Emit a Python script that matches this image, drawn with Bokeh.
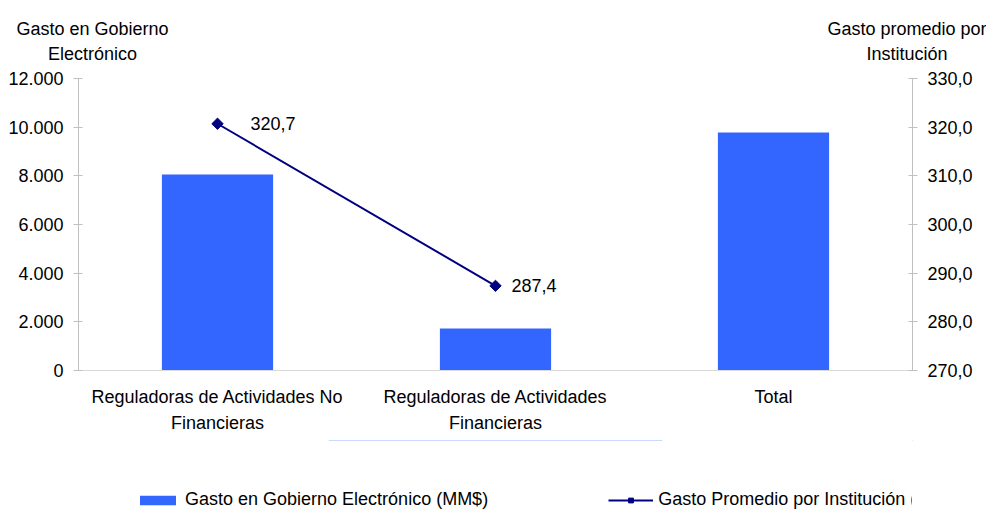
import math
from bokeh.plotting import figure
from bokeh.layouts import column
from bokeh.models import (Range1d, LinearAxis, FixedTicker,
                          CustomJSTickFormatter, Legend, LegendItem, ColumnDataSource)
from bokeh.core.properties import value
from bokeh.embed import file_html
from bokeh.resources import INLINE

# ---- data ----
categories = ["Reguladoras de Actividades No\nFinancieras",
              "Reguladoras de Actividades\nFinancieras",
              "Total"]
gasto_gobierno = [8050, 1730, 9780]
gasto_promedio = [320.7, 287.4]          # first two categories only
avg_labels = ["320,7", "287,4"]
left_ticks = [0, 2000, 4000, 6000, 8000, 10000, 12000]
right_ticks = [270, 280, 290, 300, 310, 320, 330]
left_title = "Gasto en Gobierno\nElectrónico"
right_title = "Gasto promedio por\nInstitución"
legend_labels = ["Gasto en Gobierno Electrónico (MM$)", "Gasto Promedio por Institución (MM$)"]

FONT = "Liberation Sans"
FS = "18px"
BAR_COLOR = "#3366FF"
LINE_COLOR = "#000080"
AXIS_COLOR = "#c0c0c0"

# category slots on a numeric axis (slot centres)
x_pos = [i + 0.5 for i in range(len(categories))]
x_avg = x_pos[:len(gasto_promedio)]

p = figure(frame_width=834, frame_height=292, x_range=Range1d(0, len(categories)),
           y_range=Range1d(0, 12000), output_backend="svg", toolbar_location=None,
           min_border_left=78, min_border_right=74, min_border_top=78, min_border_bottom=70)
p.extra_y_ranges = {"right": Range1d(270, 330)}
p.extra_x_ranges = {"titles": Range1d(0, 834)}
p.outline_line_color = None
p.xgrid.visible = False
p.ygrid.visible = False

bars = p.vbar(x=x_pos, top=gasto_gobierno, width=0.4, color=BAR_COLOR, line_color=None)
line = p.line(x=x_avg, y=gasto_promedio, y_range_name="right",
              line_color=LINE_COLOR, line_width=2)
pts = p.scatter(x=x_avg, y=gasto_promedio, y_range_name="right",
                marker="square", angle=math.pi / 4, size=8, color=LINE_COLOR)

label_offsets = [33, 16]
src = ColumnDataSource(dict(x=x_avg, y=gasto_promedio, t=avg_labels, off=label_offsets))
p.text(x="x", y="y", text="t", x_offset="off", source=src, y_range_name="right",
       text_font=value(FONT), text_font_size=FS, text_color="black",
       text_baseline="middle", text_align="left")

# axes
def style_axis(ax):
    ax.axis_line_color = AXIS_COLOR
    ax.major_tick_line_color = AXIS_COLOR
    ax.minor_tick_line_color = None
    ax.major_label_text_font = FONT
    ax.major_label_text_font_size = FS
    ax.major_label_text_color = "black"

yl = p.yaxis[0]
style_axis(yl)
yl.ticker = FixedTicker(ticks=left_ticks)
yl.major_tick_in = 4
yl.major_tick_out = 5
yl.major_label_standoff = 10
yl.formatter = CustomJSTickFormatter(
    code="return Math.round(tick).toString().replace(/\\B(?=(\\d{3})+(?!\\d))/g, '.');")

yr = LinearAxis(y_range_name="right")
style_axis(yr)
yr.ticker = FixedTicker(ticks=right_ticks)
yr.major_tick_in = 4
yr.major_tick_out = 5
yr.major_label_standoff = 10
yr.formatter = CustomJSTickFormatter(code="return tick.toFixed(1).replace('.', ',');")
p.add_layout(yr, "right")

xa = p.xaxis[0]
style_axis(xa)
xa.axis_line_color = "#d9d9d9"
xa.major_tick_line_color = None
xa.major_tick_in = 0
xa.major_tick_out = 0
xa.major_label_standoff = 16
xa.major_label_text_line_height = 1.3
xa.ticker = FixedTicker(ticks=x_pos)
xa.formatter = CustomJSTickFormatter(args=dict(cats=categories),
                                     code="return cats[Math.floor(tick)];")

# axis titles as labels of an invisible top axis
ta = LinearAxis(x_range_name="titles")
style_axis(ta)
ta.axis_line_color = None
ta.major_tick_line_color = None
ta.major_tick_in = 0
ta.major_tick_out = 0
ta.major_label_standoff = 15
ta.major_label_text_line_height = 1.25
ta.ticker = FixedTicker(ticks=[14, 834])
ta.formatter = CustomJSTickFormatter(
    args=dict(lt=left_title, rt=right_title),
    code="return tick < 400 ? lt : rt;")
p.add_layout(ta, "above")

# ---- legend strip (separate figure below the chart) ----
lf = figure(width=986, height=76, x_range=Range1d(0, 1), y_range=Range1d(-2, -1),
            output_backend="svg", toolbar_location=None,
            x_axis_location=None, y_axis_location=None,
            min_border=0, min_border_left=0, min_border_right=0,
            min_border_top=0, min_border_bottom=0)
lf.outline_line_color = None
lf.xgrid.visible = False
lf.ygrid.visible = False
# same series, outside the strip's visible range: only their legend swatches show
lbars = lf.vbar(x=x_pos, top=gasto_gobierno, width=0.4, color=BAR_COLOR, line_color=None)
lline = lf.line(x=x_avg, y=gasto_promedio, line_color=LINE_COLOR, line_width=2)
lpts = lf.scatter(x=x_avg, y=gasto_promedio, marker="square", angle=math.pi / 4,
                  size=8, color=LINE_COLOR)

legend = Legend(items=[LegendItem(label=legend_labels[0], renderers=[lbars]),
                       LegendItem(label=legend_labels[1], renderers=[lline, lpts])],
                orientation="horizontal", location=(57, 6),
                glyph_width=45, glyph_height=12, label_height=18, label_standoff=5,
                spacing=120, padding=0, margin=0, border_line_color=None,
                background_fill_alpha=0,
                label_text_font=FONT, label_text_font_size=FS, label_text_color="black")
lf.add_layout(legend, "center")

layout = column(p, lf, spacing=0)
open("out.html", "w").write(file_html(layout, INLINE))
